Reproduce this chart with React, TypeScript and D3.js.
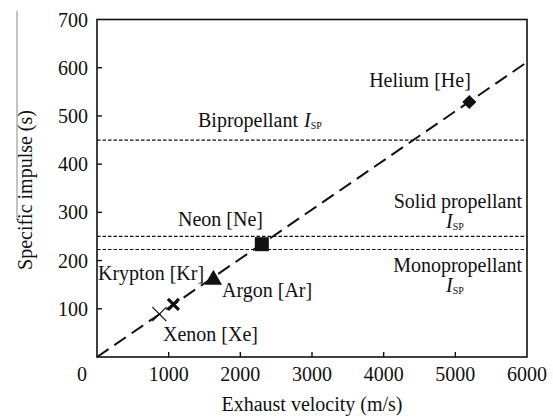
import React from "react";
import { scaleLinear, line, symbol, symbolSquare, symbolTriangle } from "d3";

// gases: exhaust velocity (m/s) vs specific impulse (s)
const gasNames = ["Xenon [Xe]", "Krypton [Kr]", "Argon [Ar]", "Neon [Ne]", "Helium [He]"];
const gasVelocity = [870, 1066, 1624, 2300, 5195];
const gasImpulse = [89, 109, 160, 234, 529];
const gasMarker = ["thinX", "thickX", "triangle", "square", "diamond"];

// reference propellant levels
const propNames = ["Bipropellant", "Solid propellant", "Monopropellant"];
const propImpulse = [450, 250, 223];

// Isp = v / g0 trend
const trendVelocity = [0, 6000];
const g0 = 9.81;

const xTicks = [1000, 2000, 3000, 4000, 5000, 6000];
const yTicks = [100, 200, 300, 400, 500, 600, 700];

const W = 553;
const H = 418;
const font = "'Liberation Serif', 'Times New Roman', serif";

const App = () => {
  const x = scaleLinear().domain([0, 6000]).range([97, 527]);
  const y = scaleLinear().domain([0, 700]).range([357, 19.5]);

  const trend = line<number>()
    .x((v) => x(v))
    .y((v) => y(v / g0));

  const marker = (kind: string, cx: number, cy: number) => {
    if (kind === "thinX") {
      const s = 7;
      return (
        <path
          d={`M${cx - s},${cy - s}L${cx + s},${cy + s}M${cx - s},${cy + s}L${cx + s},${cy - s}`}
          stroke="#111"
          strokeWidth={1.2}
        />
      );
    }
    if (kind === "thickX") {
      const s = 5.5;
      return (
        <path
          d={`M${cx - s},${cy - s}L${cx + s},${cy + s}M${cx - s},${cy + s}L${cx + s},${cy - s}`}
          stroke="#111"
          strokeWidth={3.2}
        />
      );
    }
    if (kind === "diamond") {
      return (
        <path
          d={symbol(symbolSquare, 100)() as string}
          transform={`translate(${cx},${cy}) rotate(45)`}
          fill="#111"
        />
      );
    }
    const type = kind === "triangle" ? symbolTriangle : symbolSquare;
    const size = kind === "triangle" ? 130 : 196;
    return (
      <path
        d={symbol(type, size)() as string}
        transform={`translate(${cx},${cy})`}
        fill="#111"
      />
    );
  };

  const labelPos: { [k: string]: [number, number, string] } = {
    "Xenon [Xe]": [163, 341, "start"],
    "Krypton [Kr]": [98, 280, "start"],
    "Argon [Ar]": [222, 297, "start"],
    "Neon [Ne]": [178, 226, "start"],
    "Helium [He]": [420, 87, "middle"],
  };

  const Isp = ({ px, py, anchor }: { px: number; py: number; anchor: string }) => (
    <text x={px} y={py} textAnchor={anchor} fontFamily={font} fontSize={20} fill="#111">
      <tspan fontStyle="italic">I</tspan>
      <tspan fontSize={10} dy={2}>SP</tspan>
    </text>
  );

  return (
    <svg width={W} height={H} style={{ position: "absolute", left: 0, top: 0, background: "#fff" }}>
      {/* stray scan line */}
      <line x1={17} x2={17} y1={11} y2={220} stroke="#888" strokeWidth={1} />

      {/* frame */}
      <rect x={x(0)} y={y(700)} width={x(6000) - x(0)} height={y(0) - y(700)} fill="none" stroke="#111" strokeWidth={1.6} />

      {/* ticks */}
      {xTicks.slice(0, -1).map((t) => (
        <line key={t} x1={x(t)} x2={x(t)} y1={y(0)} y2={y(0) - 5} stroke="#111" strokeWidth={1.4} />
      ))}
      {yTicks.slice(0, -1).map((t) => (
        <line key={t} x1={x(0)} x2={x(0) + 5} y1={y(t)} y2={y(t)} stroke="#111" strokeWidth={1.4} />
      ))}

      {/* tick labels */}
      <g fontFamily={font} fontSize={20} fill="#111">
        <text x={82} y={381} textAnchor="middle">0</text>
        {xTicks.map((t) => (
          <text key={t} x={x(t)} y={381} textAnchor="middle">{t}</text>
        ))}
        {yTicks.map((t) => (
          <text key={t} x={88} y={y(t) + 7} textAnchor="end">{t}</text>
        ))}
      </g>

      {/* axis titles */}
      <text x={312} y={411} textAnchor="middle" fontFamily={font} fontSize={20} fill="#111">
        Exhaust velocity (m/s)
      </text>
      <text
        transform={`translate(32,190) rotate(-90)`}
        textAnchor="middle"
        fontFamily={font}
        fontSize={20}
        fill="#111"
      >
        Specific impulse (s)
      </text>

      {/* propellant reference lines */}
      {propImpulse.map((v, i) => (
        <line
          key={propNames[i]}
          x1={x(0)}
          x2={x(6000)}
          y1={y(v)}
          y2={y(v)}
          stroke="#111"
          strokeWidth={1.2}
          strokeDasharray="3.5,2"
        />
      ))}

      {/* trend line */}
      <path d={trend(trendVelocity) as string} fill="none" stroke="#111" strokeWidth={2} strokeDasharray="14,7" />

      {/* propellant labels */}
      <text x={198} y={127} fontFamily={font} fontSize={20} fill="#111">
        {propNames[0]}
      </text>
      <Isp px={304} py={127} anchor="start" />
      <text x={522} y={208} textAnchor="end" fontFamily={font} fontSize={20} fill="#111">
        {propNames[1]}
      </text>
      <Isp px={446} py={228} anchor="start" />
      <text x={522} y={272} textAnchor="end" fontFamily={font} fontSize={20} fill="#111">
        {propNames[2]}
      </text>
      <Isp px={446} py={292} anchor="start" />

      {/* gases */}
      {gasNames.map((n, i) => (
        <g key={n}>
          {marker(gasMarker[i], x(gasVelocity[i]), y(gasImpulse[i]))}
          <text
            x={labelPos[n][0]}
            y={labelPos[n][1]}
            textAnchor={labelPos[n][2]}
            fontFamily={font}
            fontSize={20}
            fill="#111"
          >
            {n}
          </text>
        </g>
      ))}
    </svg>
  );
};

export default App;
